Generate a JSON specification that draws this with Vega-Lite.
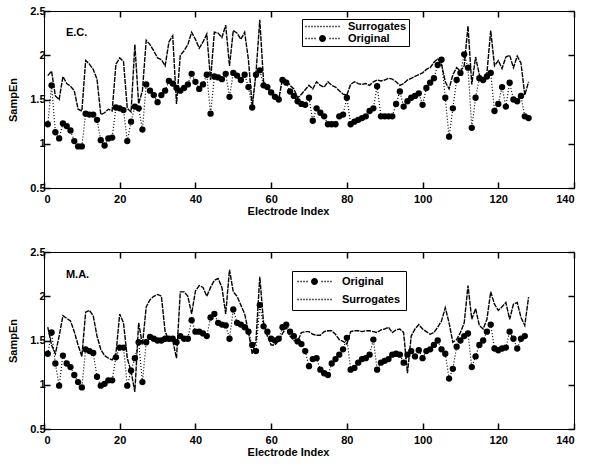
{
  "$schema": "https://vega.github.io/schema/vega-lite/v6.json",
  "padding": {"left": 7, "top": 4, "right": 5, "bottom": 3},
  "spacing": 28,
  "datasets": {
    "ec": [
      {"i":1,"s":1.77,"o":1.22},{"i":2,"s":1.82,"o":1.66},{"i":3,"s":1.54,"o":1.13},{"i":4,"s":1.50,"o":1.06},{"i":5,"s":1.76,"o":1.23},
      {"i":6,"s":1.68,"o":1.20},{"i":7,"s":1.65,"o":1.15},{"i":8,"s":1.60,"o":1.03},{"i":9,"s":1.39,"o":0.97},{"i":10,"s":1.37,"o":0.97},
      {"i":11,"s":1.94,"o":1.34},{"i":12,"s":1.90,"o":1.33},{"i":13,"s":1.84,"o":1.33},{"i":14,"s":1.73,"o":1.27},{"i":15,"s":1.33,"o":1.04},
      {"i":16,"s":1.35,"o":0.98},{"i":17,"s":1.39,"o":1.06},{"i":18,"s":1.37,"o":1.07},{"i":19,"s":1.90,"o":1.41},{"i":20,"s":1.97,"o":1.40},
      {"i":21,"s":1.93,"o":1.38},{"i":22,"s":1.40,"o":1.03},{"i":23,"s":1.36,"o":1.25},{"i":24,"s":2.12,"o":1.42},{"i":25,"s":1.45,"o":1.40},
      {"i":26,"s":1.60,"o":1.16},{"i":27,"s":2.17,"o":1.67},{"i":28,"s":2.12,"o":1.60},{"i":29,"s":2.05,"o":1.55},{"i":30,"s":1.97,"o":1.47},
      {"i":31,"s":1.95,"o":1.55},{"i":32,"s":1.88,"o":1.60},{"i":33,"s":2.15,"o":1.71},{"i":34,"s":2.22,"o":1.68},{"i":35,"s":1.45,"o":1.63},
      {"i":36,"s":2.00,"o":1.60},{"i":37,"s":2.05,"o":1.63},{"i":38,"s":2.12,"o":1.67},{"i":39,"s":2.26,"o":1.79},{"i":40,"s":2.18,"o":1.70},
      {"i":41,"s":2.08,"o":1.62},{"i":42,"s":2.15,"o":1.67},{"i":43,"s":2.24,"o":1.78},{"i":44,"s":1.72,"o":1.34},{"i":45,"s":2.26,"o":1.76},
      {"i":46,"s":2.25,"o":1.75},{"i":47,"s":2.20,"o":1.73},{"i":48,"s":2.34,"o":1.79},{"i":49,"s":1.88,"o":1.53},{"i":50,"s":2.28,"o":1.80},
      {"i":51,"s":2.25,"o":1.77},{"i":52,"s":2.18,"o":1.72},{"i":53,"s":2.26,"o":1.78},{"i":54,"s":1.95,"o":1.64},{"i":55,"s":1.42,"o":1.41},
      {"i":56,"s":1.80,"o":1.78},{"i":57,"s":2.40,"o":1.83},{"i":58,"s":1.70,"o":1.66},{"i":59,"s":1.63,"o":1.64},{"i":60,"s":1.58,"o":1.58},
      {"i":61,"s":1.55,"o":1.53},{"i":62,"s":1.50,"o":1.50},{"i":63,"s":1.74,"o":1.72},{"i":64,"s":1.72,"o":1.69},{"i":65,"s":1.66,"o":1.59},
      {"i":66,"s":1.62,"o":1.54},{"i":67,"s":1.52,"o":1.48},{"i":68,"s":1.56,"o":1.45},{"i":69,"s":1.61,"o":1.44},{"i":70,"s":1.66,"o":1.52},
      {"i":71,"s":1.62,"o":1.26},{"i":72,"s":1.70,"o":1.40},{"i":73,"s":1.66,"o":1.35},{"i":74,"s":1.64,"o":1.31},{"i":75,"s":1.70,"o":1.22},
      {"i":76,"s":1.66,"o":1.22},{"i":77,"s":1.64,"o":1.22},{"i":78,"s":1.60,"o":1.31},{"i":79,"s":1.56,"o":1.33},{"i":80,"s":1.55,"o":1.52},
      {"i":81,"s":1.67,"o":1.22},{"i":82,"s":1.70,"o":1.25},{"i":83,"s":1.68,"o":1.27},{"i":84,"s":1.67,"o":1.29},{"i":85,"s":1.68,"o":1.31},
      {"i":86,"s":1.66,"o":1.37},{"i":87,"s":1.70,"o":1.40},{"i":88,"s":1.72,"o":1.65},{"i":89,"s":1.71,"o":1.31},{"i":90,"s":1.72,"o":1.31},
      {"i":91,"s":1.74,"o":1.31},{"i":92,"s":1.73,"o":1.31},{"i":93,"s":1.70,"o":1.45},{"i":94,"s":1.66,"o":1.59},{"i":95,"s":1.68,"o":1.42},
      {"i":96,"s":1.72,"o":1.48},{"i":97,"s":1.74,"o":1.52},{"i":98,"s":1.76,"o":1.54},{"i":99,"s":1.78,"o":1.57},{"i":100,"s":1.80,"o":1.44},
      {"i":101,"s":1.84,"o":1.63},{"i":102,"s":1.86,"o":1.69},{"i":103,"s":1.92,"o":1.74},{"i":104,"s":1.96,"o":1.89},{"i":105,"s":1.90,"o":1.95},
      {"i":106,"s":1.70,"o":1.52},{"i":107,"s":1.62,"o":1.08},{"i":108,"s":1.78,"o":1.40},{"i":109,"s":1.86,"o":1.72},{"i":110,"s":1.82,"o":1.80},
      {"i":111,"s":1.88,"o":2.01},{"i":112,"s":2.33,"o":1.86},{"i":113,"s":1.67,"o":1.18},{"i":114,"s":1.98,"o":1.52},{"i":115,"s":1.78,"o":1.74},
      {"i":116,"s":1.72,"o":1.72},{"i":117,"s":1.80,"o":1.76},{"i":118,"s":2.28,"o":1.80},{"i":119,"s":1.88,"o":1.37},{"i":120,"s":1.94,"o":1.45},
      {"i":121,"s":1.85,"o":1.64},{"i":122,"s":1.98,"o":1.42},{"i":123,"s":2.00,"o":1.69},{"i":124,"s":1.86,"o":1.50},{"i":125,"s":1.99,"o":1.48},
      {"i":126,"s":1.91,"o":1.54},{"i":127,"s":1.55,"o":1.31},{"i":128,"s":1.70,"o":1.29}
    ],
    "ma": [
      {"i":1,"s":1.65,"o":1.35},{"i":2,"s":1.45,"o":1.59},{"i":3,"s":1.35,"o":1.24},{"i":4,"s":1.55,"o":0.99},{"i":5,"s":1.78,"o":1.33},
      {"i":6,"s":1.75,"o":1.24},{"i":7,"s":1.72,"o":1.20},{"i":8,"s":1.60,"o":1.11},{"i":9,"s":1.45,"o":1.03},{"i":10,"s":1.32,"o":0.97},
      {"i":11,"s":1.82,"o":1.40},{"i":12,"s":1.84,"o":1.38},{"i":13,"s":1.78,"o":1.36},{"i":14,"s":1.55,"o":1.09},{"i":15,"s":1.40,"o":0.99},
      {"i":16,"s":1.33,"o":1.01},{"i":17,"s":1.30,"o":1.05},{"i":18,"s":1.28,"o":1.05},{"i":19,"s":1.35,"o":1.31},{"i":20,"s":1.80,"o":1.42},
      {"i":21,"s":1.70,"o":1.42},{"i":22,"s":1.30,"o":0.99},{"i":23,"s":1.15,"o":1.16},{"i":24,"s":0.92,"o":1.30},{"i":25,"s":1.70,"o":1.48},
      {"i":26,"s":1.45,"o":1.03},{"i":27,"s":1.88,"o":1.48},{"i":28,"s":1.96,"o":1.54},{"i":29,"s":2.00,"o":1.52},{"i":30,"s":2.02,"o":1.50},
      {"i":31,"s":2.00,"o":1.50},{"i":32,"s":1.60,"o":1.52},{"i":33,"s":1.50,"o":1.52},{"i":34,"s":1.50,"o":1.52},{"i":35,"s":1.30,"o":1.48},
      {"i":36,"s":2.05,"o":1.55},{"i":37,"s":2.05,"o":1.52},{"i":38,"s":2.00,"o":1.52},{"i":39,"s":1.80,"o":1.73},{"i":40,"s":2.06,"o":1.60},
      {"i":41,"s":2.12,"o":1.60},{"i":42,"s":2.10,"o":1.58},{"i":43,"s":2.00,"o":1.55},{"i":44,"s":2.10,"o":1.76},{"i":45,"s":2.18,"o":1.80},
      {"i":46,"s":2.20,"o":1.70},{"i":47,"s":2.10,"o":1.68},{"i":48,"s":1.80,"o":1.67},{"i":49,"s":2.30,"o":1.52},{"i":50,"s":2.05,"o":1.85},
      {"i":51,"s":2.00,"o":1.70},{"i":52,"s":1.90,"o":1.68},{"i":53,"s":1.80,"o":1.65},{"i":54,"s":1.60,"o":1.60},{"i":55,"s":1.35,"o":1.45},
      {"i":56,"s":1.50,"o":1.38},{"i":57,"s":2.22,"o":1.90},{"i":58,"s":1.70,"o":1.66},{"i":59,"s":1.55,"o":1.60},{"i":60,"s":1.45,"o":1.52},
      {"i":61,"s":1.45,"o":1.50},{"i":62,"s":1.50,"o":1.52},{"i":63,"s":1.58,"o":1.65},{"i":64,"s":1.65,"o":1.68},{"i":65,"s":1.55,"o":1.60},
      {"i":66,"s":1.50,"o":1.55},{"i":67,"s":1.49,"o":1.49},{"i":68,"s":1.59,"o":1.46},{"i":69,"s":1.60,"o":1.38},{"i":70,"s":1.60,"o":1.21},
      {"i":71,"s":1.57,"o":1.29},{"i":72,"s":1.56,"o":1.30},{"i":73,"s":1.56,"o":1.17},{"i":74,"s":1.60,"o":1.13},{"i":75,"s":1.61,"o":1.11},
      {"i":76,"s":1.61,"o":1.24},{"i":77,"s":1.57,"o":1.29},{"i":78,"s":1.51,"o":1.34},{"i":79,"s":1.49,"o":1.40},{"i":80,"s":1.46,"o":1.53},
      {"i":81,"s":1.60,"o":1.17},{"i":82,"s":1.61,"o":1.19},{"i":83,"s":1.61,"o":1.25},{"i":84,"s":1.60,"o":1.29},{"i":85,"s":1.61,"o":1.30},
      {"i":86,"s":1.61,"o":1.34},{"i":87,"s":1.60,"o":1.51},{"i":88,"s":1.59,"o":1.17},{"i":89,"s":1.62,"o":1.25},{"i":90,"s":1.63,"o":1.27},
      {"i":91,"s":1.65,"o":1.29},{"i":92,"s":1.59,"o":1.34},{"i":93,"s":1.62,"o":1.35},{"i":94,"s":1.63,"o":1.34},{"i":95,"s":1.59,"o":1.25},
      {"i":96,"s":1.13,"o":1.34},{"i":97,"s":1.55,"o":1.38},{"i":98,"s":1.63,"o":1.32},{"i":99,"s":1.68,"o":1.39},{"i":100,"s":1.63,"o":1.30},
      {"i":101,"s":1.60,"o":1.38},{"i":102,"s":1.57,"o":1.40},{"i":103,"s":1.59,"o":1.45},{"i":104,"s":1.65,"o":1.50},{"i":105,"s":1.72,"o":1.40},
      {"i":106,"s":1.87,"o":1.35},{"i":107,"s":1.70,"o":1.07},{"i":108,"s":1.48,"o":1.18},{"i":109,"s":1.51,"o":1.43},{"i":110,"s":1.59,"o":1.50},
      {"i":111,"s":1.70,"o":1.55},{"i":112,"s":2.12,"o":1.58},{"i":113,"s":1.74,"o":1.20},{"i":114,"s":1.86,"o":1.32},{"i":115,"s":1.67,"o":1.45},
      {"i":116,"s":1.63,"o":1.50},{"i":117,"s":1.74,"o":1.60},{"i":118,"s":2.05,"o":1.68},{"i":119,"s":1.91,"o":1.41},{"i":120,"s":1.84,"o":1.39},
      {"i":121,"s":1.88,"o":1.41},{"i":122,"s":1.93,"o":1.42},{"i":123,"s":1.74,"o":1.60},{"i":124,"s":1.91,"o":1.52},{"i":125,"s":1.93,"o":1.41},
      {"i":126,"s":1.76,"o":1.52},{"i":127,"s":1.67,"o":1.55},{"i":128,"s":1.99,"o":null}
    ]
  },
  "resolve": {"scale": {"shape": "independent"}, "legend": {"shape": "independent"}},
  "vconcat": [
    {
      "width": 530, "height": 177,
      "data": {"name": "ec"},
      "resolve": {"axis": {"x": "independent", "y": "independent"}},
      "layer": [
        {
          "mark": {"type": "line", "stroke": "black", "strokeWidth": 1.4, "strokeDash": [5, 1]},
          "encoding": {
            "x": {"field": "i", "type": "quantitative", "scale": {"domain": [0, 140], "nice": false, "zero": false},
                  "axis": {"orient": "bottom", "values": [0,20,40,60,80,100,120,140], "title": "Electrode Index", "labelPadding": 11, "titlePadding": 1, "titleX": 244}},
            "y": {"field": "s", "type": "quantitative", "scale": {"domain": [0.5, 2.5], "nice": false, "zero": false},
                  "axis": {"orient": "left", "values": [0.5,1,1.5,2,2.5], "format": "~g", "title": "SampEn", "labelPadding": 5, "titlePadding": 11}}
          }
        },
        {
          "mark": {"type": "line", "stroke": "black", "strokeWidth": 1.2, "strokeDash": [1, 2]},
          "encoding": {
            "x": {"field": "i", "type": "quantitative", "scale": {"domain": [0, 140], "nice": false, "zero": false}, "axis": null},
            "y": {"field": "o", "type": "quantitative", "scale": {"domain": [0.5, 2.5], "nice": false, "zero": false}, "axis": null}
          }
        },
        {
          "mark": {"type": "point", "shape": "circle", "filled": true, "color": "black", "size": 40, "opacity": 1},
          "encoding": {
            "x": {"field": "i", "type": "quantitative", "scale": {"domain": [0, 140], "nice": false, "zero": false}, "axis": null},
            "y": {"field": "o", "type": "quantitative", "scale": {"domain": [0.5, 2.5], "nice": false, "zero": false}, "axis": null}
          }
        },
        {
          "transform": [{"filter": "false"}],
          "mark": {"type": "point", "filled": true, "color": "black", "opacity": 1},
          "encoding": {
            "shape": {"field": "series", "type": "nominal",
              "scale": {"domain": ["Surrogates", "Original"], "range": [
                "M-3.43,-0.13h0.26v0.26h-0.26zM-2.83,-0.13h0.26v0.26h-0.26zM-2.23,-0.13h0.26v0.26h-0.26zM-1.63,-0.13h0.26v0.26h-0.26zM-1.03,-0.13h0.26v0.26h-0.26zM-0.43,-0.13h0.26v0.26h-0.26zM0.17,-0.13h0.26v0.26h-0.26zM0.77,-0.13h0.26v0.26h-0.26zM1.37,-0.13h0.26v0.26h-0.26zM1.97,-0.13h0.26v0.26h-0.26zM2.57,-0.13h0.26v0.26h-0.26zM3.17,-0.13h0.26v0.26h-0.26z",
                "M-3.43,-0.13h0.26v0.26h-0.26zM-2.83,-0.13h0.26v0.26h-0.26zM-2.23,-0.13h0.26v0.26h-0.26zM-1.63,-0.13h0.26v0.26h-0.26zM1.37,-0.13h0.26v0.26h-0.26zM1.97,-0.13h0.26v0.26h-0.26zM2.57,-0.13h0.26v0.26h-0.26zM3.17,-0.13h0.26v0.26h-0.26zM-0.7,0a0.7,0.7 0 1,0 1.4,0a0.7,0.7 0 1,0 -1.4,0z"]},
              "legend": {"orient": "none", "legendX": 258, "legendY": 8, "title": null, "strokeColor": "black", "fillColor": "white",
                "padding": 2, "symbolSize": 100, "symbolOffset": 13, "labelOffset": 20, "labelFont": "Liberation Sans", "labelFontSize": 11,
                "labelFontWeight": "bold", "labelColor": "black", "rowPadding": 0, "symbolStrokeWidth": 0, "symbolFillColor": "black", "symbolOpacity": 1}
            }
          }
        },
        {
          "data": {"values": [{"x": 5.8, "y": 2.25, "t": "E.C."}]},
          "mark": {"type": "text", "align": "left", "baseline": "middle", "font": "Liberation Sans", "fontWeight": "bold", "fontSize": 11, "color": "black"},
          "encoding": {
            "x": {"field": "x", "type": "quantitative", "scale": {"domain": [0, 140], "nice": false, "zero": false},
                  "axis": {"orient": "top", "labels": false, "title": null, "domain": false, "values": [0,20,40,60,80,100,120,140]}},
            "y": {"field": "y", "type": "quantitative", "scale": {"domain": [0.5, 2.5], "nice": false, "zero": false},
                  "axis": {"orient": "right", "labels": false, "title": null, "domain": false, "values": [0.5,1,1.5,2,2.5]}},
            "text": {"field": "t"}
          }
        }
      ]
    },
    {
      "width": 530, "height": 177,
      "data": {"name": "ma"},
      "resolve": {"axis": {"x": "independent", "y": "independent"}},
      "layer": [
        {
          "mark": {"type": "line", "stroke": "black", "strokeWidth": 1.4, "strokeDash": [5, 1]},
          "encoding": {
            "x": {"field": "i", "type": "quantitative", "scale": {"domain": [0, 140], "nice": false, "zero": false},
                  "axis": {"orient": "bottom", "values": [0,20,40,60,80,100,120,140], "title": "Electrode Index", "labelPadding": 11, "titlePadding": 1, "titleX": 244}},
            "y": {"field": "s", "type": "quantitative", "scale": {"domain": [0.5, 2.5], "nice": false, "zero": false},
                  "axis": {"orient": "left", "values": [0.5,1,1.5,2,2.5], "format": "~g", "title": "SampEn", "labelPadding": 5, "titlePadding": 11}}
          }
        },
        {
          "mark": {"type": "line", "stroke": "black", "strokeWidth": 1.2, "strokeDash": [1, 2]},
          "encoding": {
            "x": {"field": "i", "type": "quantitative", "scale": {"domain": [0, 140], "nice": false, "zero": false}, "axis": null},
            "y": {"field": "o", "type": "quantitative", "scale": {"domain": [0.5, 2.5], "nice": false, "zero": false}, "axis": null}
          }
        },
        {
          "mark": {"type": "point", "shape": "circle", "filled": true, "color": "black", "size": 40, "opacity": 1},
          "encoding": {
            "x": {"field": "i", "type": "quantitative", "scale": {"domain": [0, 140], "nice": false, "zero": false}, "axis": null},
            "y": {"field": "o", "type": "quantitative", "scale": {"domain": [0.5, 2.5], "nice": false, "zero": false}, "axis": null}
          }
        },
        {
          "transform": [{"filter": "false"}],
          "mark": {"type": "point", "filled": true, "color": "black", "opacity": 1},
          "encoding": {
            "shape": {"field": "series", "type": "nominal",
              "scale": {"domain": ["Original", "Surrogates"], "range": [
                "M-3.43,-0.13h0.26v0.26h-0.26zM-2.83,-0.13h0.26v0.26h-0.26zM-2.23,-0.13h0.26v0.26h-0.26zM-1.63,-0.13h0.26v0.26h-0.26zM1.37,-0.13h0.26v0.26h-0.26zM1.97,-0.13h0.26v0.26h-0.26zM2.57,-0.13h0.26v0.26h-0.26zM3.17,-0.13h0.26v0.26h-0.26zM-0.7,0a0.7,0.7 0 1,0 1.4,0a0.7,0.7 0 1,0 -1.4,0z",
                "M-3.43,-0.13h0.26v0.26h-0.26zM-2.83,-0.13h0.26v0.26h-0.26zM-2.23,-0.13h0.26v0.26h-0.26zM-1.63,-0.13h0.26v0.26h-0.26zM-1.03,-0.13h0.26v0.26h-0.26zM-0.43,-0.13h0.26v0.26h-0.26zM0.17,-0.13h0.26v0.26h-0.26zM0.77,-0.13h0.26v0.26h-0.26zM1.37,-0.13h0.26v0.26h-0.26zM1.97,-0.13h0.26v0.26h-0.26zM2.57,-0.13h0.26v0.26h-0.26zM3.17,-0.13h0.26v0.26h-0.26z"]},
              "legend": {"orient": "none", "legendX": 248, "legendY": 19, "title": null, "strokeColor": "black", "fillColor": "white",
                "padding": 5, "symbolSize": 100, "symbolOffset": 12, "labelOffset": 22, "labelFont": "Liberation Sans", "labelFontSize": 11,
                "labelFontWeight": "bold", "labelColor": "black", "rowPadding": 6, "symbolStrokeWidth": 0, "symbolFillColor": "black", "symbolOpacity": 1}
            }
          }
        },
        {
          "data": {"values": [{"x": 5.8, "y": 2.24, "t": "M.A."}]},
          "mark": {"type": "text", "align": "left", "baseline": "middle", "font": "Liberation Sans", "fontWeight": "bold", "fontSize": 11, "color": "black"},
          "encoding": {
            "x": {"field": "x", "type": "quantitative", "scale": {"domain": [0, 140], "nice": false, "zero": false},
                  "axis": {"orient": "top", "labels": false, "title": null, "domain": false, "values": [0,20,40,60,80,100,120,140]}},
            "y": {"field": "y", "type": "quantitative", "scale": {"domain": [0.5, 2.5], "nice": false, "zero": false},
                  "axis": {"orient": "right", "labels": false, "title": null, "domain": false, "values": [0.5,1,1.5,2,2.5]}},
            "text": {"field": "t"}
          }
        }
      ]
    }
  ],
  "config": {
    "font": "Liberation Sans",
    "background": "white",
    "view": {"stroke": "black", "strokeWidth": 1},
    "axis": {"grid": false, "ticks": true, "domainColor": "black", "tickColor": "black", "labelColor": "black", "titleColor": "black",
             "labelFont": "Liberation Sans", "labelFontSize": 11, "labelFontWeight": "bold",
             "titleFont": "Liberation Sans", "titleFontSize": 11, "titleFontWeight": "bold",
             "tickSize": -6, "tickWidth": 1.5, "labelPadding": 4, "domainWidth": 1}
  }
}
